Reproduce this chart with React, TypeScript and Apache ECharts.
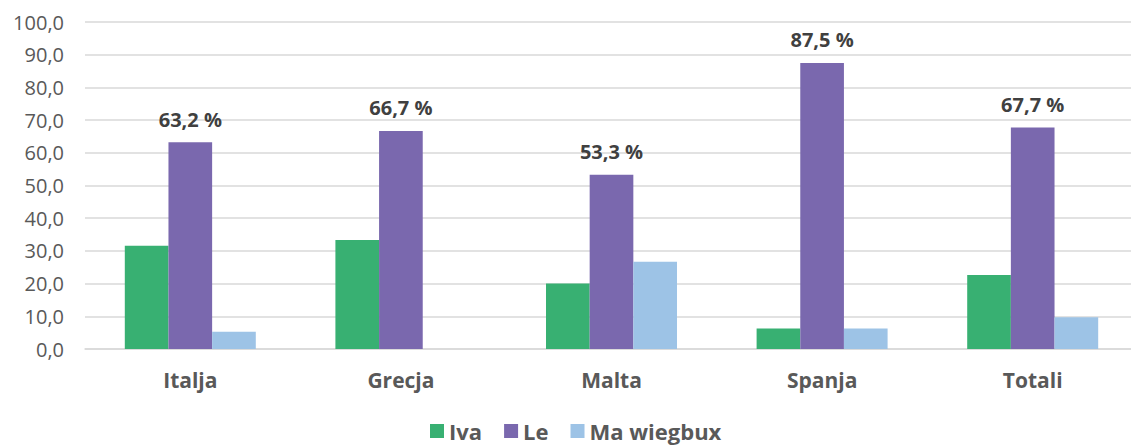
import React, { useEffect, useRef } from "react";
import * as echarts from "echarts";

const categories = ["Italja", "Grecja", "Malta", "Spanja", "Totali"];
const seriesNames = ["Iva", "Le", "Ma wiegbux"];
const ivaValues = [31.6, 33.3, 20.0, 6.25, 22.6];
const leValues = [63.2, 66.7, 53.3, 87.5, 67.7];
const maWiegbuxValues = [5.3, 0, 26.7, 6.25, 9.7];
const colors = ["#38B072", "#7A68AE", "#9DC3E6"];

const FONT = "'Open Sans', 'Liberation Sans', sans-serif";

export default function App() {
  const ref = useRef<HTMLDivElement>(null);
  useEffect(() => {
    if (!ref.current) return;
    const chart = echarts.init(ref.current, undefined, { renderer: "svg" });
    const fmt = (v: number) => v.toFixed(1).replace(".", ",");
    chart.setOption({
      animation: false,
      textStyle: { fontFamily: FONT },
      grid: { left: 85, width: 1053, top: 22, height: 327 },
      legend: {
        top: 420,
        left: 430,
        padding: 0,
        itemWidth: 14,
        itemHeight: 14,
        itemGap: 22,
        icon: "rect",
        data: seriesNames,
        textStyle: { fontFamily: FONT, fontSize: 22, lineHeight: 20, fontWeight: "bold", color: "#595959" },
      },
      xAxis: {
        type: "category",
        data: categories,
        axisTick: { show: false },
        axisLine: { lineStyle: { color: "#D9D9D9", width: 1.5 } },
        axisLabel: { fontFamily: FONT, fontSize: 21, fontWeight: "bold", color: "#595959", margin: 20 },
      },
      yAxis: {
        type: "value",
        min: 0,
        max: 100,
        interval: 10,
        axisLine: { show: false },
        axisTick: { show: false },
        splitLine: { lineStyle: { color: "#D9D9D9", width: 1.5 } },
        axisLabel: { fontFamily: FONT, fontSize: 20, color: "#595959", margin: 21, formatter: (v: number) => fmt(v) },
      },
      series: [
        { name: seriesNames[0], type: "bar", data: ivaValues, itemStyle: { color: colors[0] }, barGap: "0%", barCategoryGap: "37.8%" },
        {
          name: seriesNames[1],
          type: "bar",
          data: leValues,
          itemStyle: { color: colors[1] },
          barGap: "0%",
          barCategoryGap: "37.8%",
          label: {
            show: true,
            position: "top",
            distance: 13,
            fontFamily: FONT,
            fontSize: 20,
            fontWeight: "bold",
            color: "#404040",
            formatter: (p: any) => fmt(p.value) + " %",
          },
        },
        { name: seriesNames[2], type: "bar", data: maWiegbuxValues, itemStyle: { color: colors[2] }, barGap: "0%", barCategoryGap: "37.8%" },
      ],
    });
    return () => chart.dispose();
  }, []);
  return (
    <div style={{ width: 1131, height: 445, position: "absolute", left: 0, top: 0, overflow: "hidden", background: "#fff" }}>
      <div ref={ref} style={{ width: 1145, height: 445 }} />
    </div>
  );
}
